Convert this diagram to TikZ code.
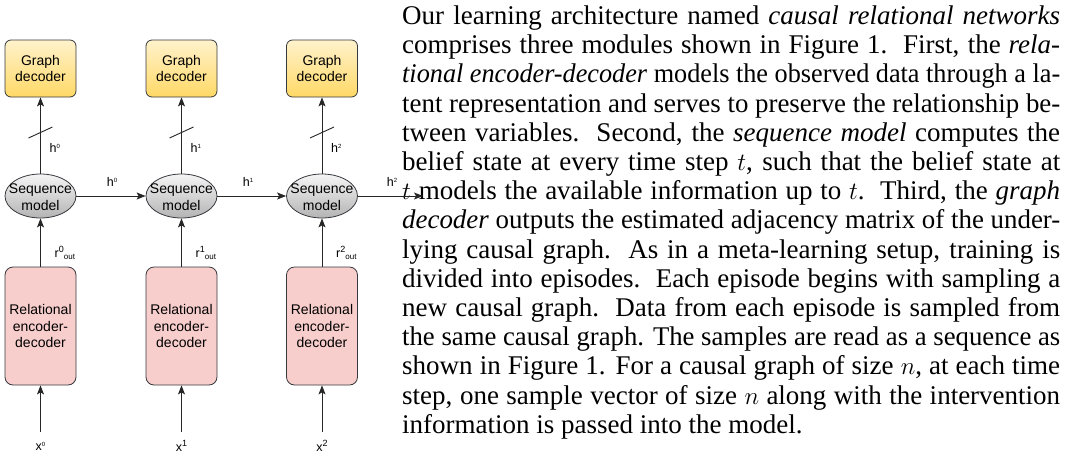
\documentclass[tikz,border=0pt]{standalone}
\usepackage{fontspec}
\usepackage{graphicx}
\setmainfont{Liberation Serif}
\newfontfamily\diagfont{Liberation Sans}
\usetikzlibrary{arrows.meta,shapes.geometric}
\definecolor{gdtop}{HTML}{FFF2CC}
\definecolor{gdbot}{HTML}{FFD966}
\definecolor{seqtop}{HTML}{F5F5F5}
\definecolor{seqbot}{HTML}{B3B3B3}
\definecolor{relfill}{HTML}{F8CECC}
\definecolor{strk}{HTML}{36393D}
\newcommand{\tsup}[1]{\raisebox{3.8pt}{\fontsize{6}{6}\selectfont #1}}
\newcommand{\bsup}[1]{\raisebox{5pt}{\fontsize{9}{9}\selectfont #1}}
\newcommand{\lsub}[1]{\raisebox{-2pt}{\fontsize{8}{8}\selectfont #1}}
\newsavebox{\lnbox}
\newcommand{\jline}[1]{\sbox{\lnbox}{#1}\ifdim\wd\lnbox>\linewidth\resizebox{\linewidth}{\height}{\usebox{\lnbox}}\else\makebox[\linewidth][s]{#1}\fi\par}
\begin{document}
\begin{tikzpicture}[x=1pt,y=-1pt,
  gdbox/.style={draw=strk, line width=0.8pt, rounded corners=6pt, top color=gdtop, bottom color=gdbot,
    minimum width=71pt, minimum height=57pt, align=center, inner sep=0pt,
    font=\diagfont\fontsize{14}{16.7}\selectfont},
  seqnode/.style={ellipse, draw=strk, line width=0.8pt, top color=seqtop, bottom color=seqbot,
    minimum width=71pt, minimum height=44pt, inner sep=0pt},
  seqtext/.style={align=center, inner sep=0pt, font=\diagfont\fontsize{14}{16.7}\selectfont},
  relbox/.style={draw=strk, line width=0.8pt, rounded corners=8pt, fill=relfill,
    minimum width=71pt, minimum height=118pt, align=center, inner sep=0pt,
    font=\diagfont\fontsize{14}{16.7}\selectfont},
  lab/.style={inner sep=0pt, font=\diagfont\fontsize{12.5}{14}\selectfont},
  arr/.style={draw=black!85, line width=0.9pt, -{Stealth[length=9pt,width=7pt,inset=2pt]}},
  plain/.style={draw=black!85, line width=0.9pt}
]
\useasboundingbox (0,0) rectangle (1067,453);

% paragraph
\node[anchor=base west, inner sep=0pt] (para) at (402,24.5) {\begin{minipage}[t]{658pt}
\fontsize{27}{29.2}\selectfont\setlength{\parindent}{0pt}\setlength{\parskip}{0pt}%
\jline{Our learning architecture named \textit{causal relational networks}}
\jline{comprises three modules shown in Figure 1.\ \ First, the \textit{rela-}}
\jline{\textit{tional encoder-decoder} models the observed data through a la-}
\jline{tent representation and serves to preserve the relationship be-}
\jline{tween variables.\ \ Second, the \textit{sequence model} computes the}
\jline{belief state at every time step $t$, such that the belief state at}
\jline{$t$ models the available information up to $t$.\ \ Third, the \textit{graph}}
\jline{\textit{decoder} outputs the estimated adjacency matrix of the under-}
\jline{lying causal graph.\ \ As in a meta-learning setup, training is}
\jline{divided into episodes.\ \ Each episode begins with sampling a}
\jline{new causal graph.\ \ Data from each episode is sampled from}
\jline{the same causal graph. The samples are read as a sequence as}
\jline{shown in Figure 1. For a causal graph of size $n$, at each time}
\jline{step, one sample vector of size $n$ along with the intervention}
information is passed into the model.\par
\end{minipage}};

% columns
\foreach \i/\cx/\xl in {0/40.5/{x\tsup{0}},1/181.5/{x\bsup{1}},2/322/{x\bsup{2}}}{
  \node[gdbox] (g\i) at (\cx,68.5) {Graph\\decoder};
  \node[seqnode] (s\i) at (\cx,196) {};
  \node[seqtext] (st\i) at (\cx,197) {Sequence\\model};
  \node[relbox] (r\i) at (\cx,326) {Relational\\encoder-\\decoder};
  \node[lab] (x\i) at (\cx,446) {\xl};
  \coordinate (xin\i) at (\cx,432);
  \draw[arr] (xin\i) -- (r\i.south);
  \draw[arr] (r\i.north) -- (s\i.south);
  \draw[arr] (s\i.north) -- (g\i.south);
  \coordinate (sl\i a) at (\cx-12,138);
  \coordinate (sl\i b) at (\cx+12,127);
  \draw[plain] (sl\i a) -- (sl\i b);
  \node[lab, anchor=west] (hv\i) at (\cx+9,148) {h\tsup{\i}};
  \node[lab, anchor=west] (ro\i) at (\cx+14,253) {r\bsup{\i}\lsub{out}};
}
\coordinate (hout) at (423,196);
\draw[arr] (s0.east) -- (s1.west);
\draw[arr] (s1.east) -- (s2.west);
\draw[arr] (s2.east) -- (hout);
\node[lab] (hh0) at (112,182) {h\tsup{0}};
\node[lab] (hh1) at (248,182) {h\tsup{1}};
\node[lab] (hh2) at (392,182) {h\tsup{2}};
\end{tikzpicture}
\end{document}
